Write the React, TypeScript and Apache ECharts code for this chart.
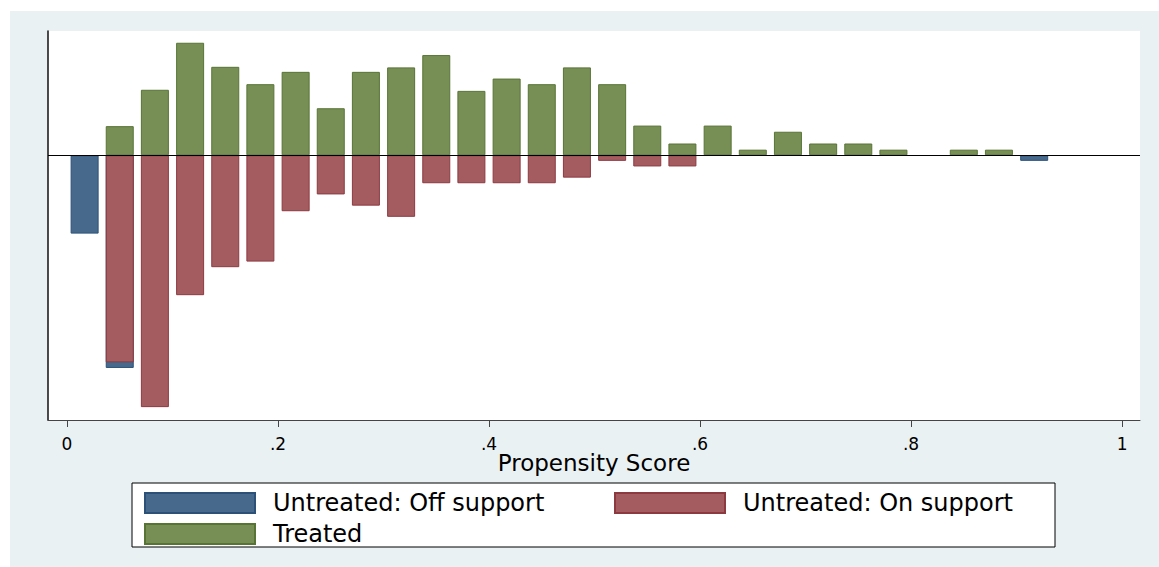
import React, { useEffect, useRef } from "react";
import * as echarts from "echarts";

// Bin midpoints of the propensity-score histogram (bin width 1/30)
const binCenters = [
  0.0167, 0.05, 0.0833, 0.1167, 0.15, 0.1833, 0.2167, 0.25, 0.2833, 0.3167,
  0.35, 0.3833, 0.4167, 0.45, 0.4833, 0.5167, 0.55, 0.5833, 0.6167, 0.65,
  0.6833, 0.7167, 0.75, 0.7833, 0.8167, 0.85, 0.8833, 0.9167,
];
// Treated (plotted upward)
const treated = [
  null, 5.2, 11.7, 20.1, 15.8, 12.7, 14.9, 8.4, 14.9, 15.7,
  17.9, 11.5, 13.7, 12.7, 15.7, 12.7, 5.3, 2.1, 5.3, 1.0,
  4.2, 2.1, 2.1, 1.0, null, 1.0, 1.0, null,
];
// Untreated: On support (plotted downward)
const untreatedOn = [
  null, -37, -45, -25, -20, -19, -10, -7, -9, -11,
  -5, -5, -5, -5, -4, -1, -2, -2, null, null,
  null, null, null, null, null, null, null, null,
];
// Untreated: Off support (plotted downward, stacked below "On support")
const untreatedOff = [
  -14, -1, null, null, null, null, null, null, null, null,
  null, null, null, null, null, null, null, null, null, null,
  null, null, null, null, null, null, null, -1,
];
const xTicks = [0, 0.2, 0.4, 0.6, 0.8, 1];

const FONT = "DejaVu Sans";

export default function App() {
  const ref = useRef<HTMLDivElement>(null);
  useEffect(() => {
    if (!ref.current) return;
    const chart = echarts.init(ref.current, null, { renderer: "svg" });
    const pair = (arr: (number | null)[]) =>
      arr.map((v, i) => [binCenters[i], v]);
    // Off-support bars sit below the on-support bars: draw them to the cumulative depth,
    // then the on-support bars are painted over their upper part.
    const offCumulative = untreatedOff.map((v, i) =>
      v == null ? null : v + (untreatedOn[i] ?? 0)
    );
    const mk = (name: string, data: any, fill: string, border: string, extra: any = {}) => ({
      name,
      type: "bar",
      data,
      barWidth: 28,
      barGap: "-100%",
      itemStyle: { color: fill, borderColor: border, borderWidth: 1 },
      emphasis: { disabled: true },
      ...extra,
    });
    chart.setOption({
      animation: false,
      backgroundColor: "#EAF1F3",
      textStyle: { fontFamily: FONT },
      grid: {
        left: 38,
        top: 20,
        right: 19,
        bottom: 147,
        containLabel: false,
        outerBoundsMode: "none",
        show: true,
        backgroundColor: "#ffffff",
        borderWidth: 0,
      },
      xAxis: {
        type: "value",
        min: -0.018,
        max: 1.017,
        axisLine: { show: true, onZero: false, lineStyle: { color: "#444", width: 1 } },
        axisTick: {
          show: true,
          customValues: xTicks,
          length: 7,
          lineStyle: { color: "#444", width: 1 },
        },
        axisLabel: {
          customValues: xTicks,
          fontSize: 17,
          color: "#000",
          margin: 15,
          fontFamily: FONT,
          formatter: (v: number) =>
            v === 0 ? "0" : v === 1 ? "1" : String(v).replace(/^0/, ""),
        },
        splitLine: { show: false },
        name: "Propensity Score",
        nameLocation: "middle",
        nameGap: 31,
        nameMoveOverlap: false,
        nameTextStyle: { fontSize: 23, color: "#000", fontFamily: FONT },
      },
      yAxis: {
        type: "value",
        min: -47.3,
        max: 22.2,
        axisLine: { show: true, onZero: false, lineStyle: { color: "#111", width: 1.5 } },
        axisTick: { show: false },
        axisLabel: { show: false },
        splitLine: { show: false },
      },
      legend: [
        {
          data: ["Untreated: Off support", "Treated"],
          orient: "vertical",
          left: 134,
          top: 480,
          padding: 0,
          itemWidth: 110,
          itemHeight: 20,
          itemGap: 7,
          icon: "rect",
          selectedMode: false,
          z: 10,
          textStyle: { fontSize: 24, color: "#000", fontFamily: FONT, padding: [0, 0, 0, 13] },
        },
        {
          data: ["Untreated: On support"],
          orient: "vertical",
          left: 604,
          top: 480,
          padding: 0,
          itemWidth: 110,
          itemHeight: 20,
          itemGap: 7,
          icon: "rect",
          selectedMode: false,
          z: 10,
          textStyle: { fontSize: 24, color: "#000", fontFamily: FONT, padding: [0, 0, 0, 13] },
        },
      ],
      graphic: [
        {
          type: "rect",
          z: 1,
          shape: { x: 122, y: 472, width: 923, height: 64 },
          style: { fill: "#ffffff", stroke: "#000", lineWidth: 1 },
          silent: true,
        },
      ],
      series: [
        mk("Treated", pair(treated), "#778F55", "#587435", {
          markLine: {
            silent: true,
            symbol: "none",
            label: { show: false },
            lineStyle: { color: "#000", width: 1, type: "solid" },
            data: [{ yAxis: 0 }],
          },
        }),
        mk("Untreated: Off support", pair(offCumulative), "#476A8C", "#2B5178"),
        mk("Untreated: On support", pair(untreatedOn), "#A45C60", "#8C3A40"),
      ],
    });
    return () => chart.dispose();
  }, []);
  return (
    <div
      ref={ref}
      style={{ position: "absolute", left: 10, top: 11, width: 1149, height: 556 }}
    />
  );
}
